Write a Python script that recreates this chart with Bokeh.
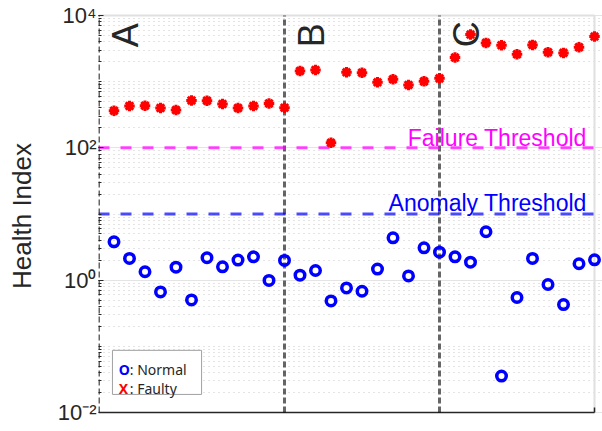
import math
from bokeh.plotting import figure
from bokeh.models import Label, BoxAnnotation, FixedTicker, Range1d, CustomJSTickFormatter
from bokeh.embed import file_html
from bokeh.resources import INLINE

# ---------------- data ----------------
sample = list(range(1, 33))
normal = [3.80, 2.13, 1.34, 0.665, 1.57, 0.503, 2.18, 1.59, 2.01, 2.25, 0.99, 1.99,
          1.19, 1.40, 0.486, 0.764, 0.68, 1.47, 4.37, 1.16, 3.08, 2.65,
          2.25, 1.87, 5.39, 0.0355, 0.547, 2.13, 0.86, 0.428, 1.77, 2.03]
faulty = [364, 429, 433, 400, 372, 521, 516, 460, 400, 429, 469, 404,
          1452, 1503, 119, 1384, 1368, 977, 1084, 892, 1011, 1122,
          2311, 5152, 3855, 3548, 2594, 3597, 2781, 2722, 3311, 4808]
boundaries = [0, 12, 22]
sections = ["A", "B", "C"]
failure_threshold = 100
anomaly_threshold = 10
x_lo, x_hi = 0, 32
y_lo, y_hi = 1e-2, 1e4
y_major = [1e-2, 1e0, 1e2, 1e4]
y_decades = [-2, -1, 0, 1, 2, 3]

FONT = "Liberation Sans"
TXT = "#262626"

# frame extends past the axes box so edge markers are not cut
PX_DEC = 397 / 6.0
PX_X = 496 / 32.0
p = figure(width=602, height=431, y_axis_type="log",
           x_range=Range1d(x_lo, x_hi + 8 / PX_X),
           y_range=Range1d(y_lo * 10 ** (-19 / PX_DEC), y_hi * 10 ** (15 / PX_DEC)),
           output_backend="svg", toolbar_location=None,
           min_border_left=98, min_border_right=0, min_border_top=0, min_border_bottom=0)
p.outline_line_color = None
p.background_fill_color = "white"
p.border_fill_color = "white"

minor = [k * 10 ** e for e in y_decades for k in range(2, 11)]
yticker = FixedTicker(ticks=y_major, minor_ticks=minor)

yax = p.yaxis[0]
yax.ticker = yticker
yax.formatter = CustomJSTickFormatter(code="""
const sup = {'-':'\\u207B','0':'\\u2070','1':'\\u00B9','2':'\\u00B2','3':'\\u00B3',
             '4':'\\u2074','5':'\\u2075','6':'\\u2076','7':'\\u2077','8':'\\u2078','9':'\\u2079'};
const e = String(Math.round(Math.log10(tick)));
return '10' + e.split('').map(c => sup[c]).join('');
""")
yax.major_label_text_font = FONT
yax.major_label_text_font_size = "22px"
yax.major_label_text_color = TXT
yax.major_label_standoff = 2
yax.axis_line_color = None
yax.major_tick_in = 5
yax.major_tick_out = 0
yax.minor_tick_in = 3
yax.minor_tick_out = 0
yax.major_tick_line_color = TXT
yax.minor_tick_line_color = TXT
yax.axis_label = "Health Index"
yax.axis_label_text_font = FONT
yax.axis_label_text_font_size = "26px"
yax.axis_label_text_font_style = "normal"
yax.axis_label_text_color = TXT
yax.axis_label_standoff = 18
p.xaxis.visible = False

p.xgrid.visible = False
yg = p.ygrid[0]
yg.ticker = yticker
yg.grid_line_color = "#e4e4e4"
yg.minor_grid_line_color = "#c8c8c8"
yg.minor_grid_line_dash = "1 4"

# axes box: light top/right edges, dark bottom edge with end tick
p.segment(x0=[x_lo, x_hi], y0=[y_hi, y_lo], x1=[x_hi, x_hi], y1=[y_hi, y_hi],
          line_color="#e0e0e0", line_width=2)
p.segment(x0=[x_lo], y0=[y_lo], x1=[x_hi], y1=[y_lo], line_color=TXT, line_width=1.5)
p.segment(x0=[x_hi], y0=[y_lo], x1=[x_hi], y1=[y_lo * 10 ** (5 / PX_DEC)],
          line_color=TXT, line_width=1.5)

# section boundaries
p.segment(x0=boundaries, y0=[y_lo] * len(boundaries), x1=boundaries, y1=[y_hi] * len(boundaries),
          line_color="black", line_alpha=0.6, line_width=3, line_dash="6 3")
# thresholds
p.segment(x0=[x_lo], y0=[failure_threshold], x1=[x_hi], y1=[failure_threshold],
          line_color="#ff00ff", line_alpha=0.72, line_width=3, line_dash="11 11")
p.segment(x0=[x_lo], y0=[anomaly_threshold], x1=[x_hi], y1=[anomaly_threshold],
          line_color="#0000ff", line_alpha=0.7, line_width=3, line_dash="11 11")

# markers
p.scatter(sample, faulty, marker="circle", size=7.5, fill_color="red", line_color=None)
p.scatter(sample, faulty, marker="asterisk", size=10.5, line_color="red", line_width=3)
p.scatter(sample, normal, marker="circle", size=9.5, fill_color=None,
          line_color="blue", line_width=3.5)

# section labels
for b, s in zip(boundaries, sections):
    p.add_layout(Label(x=b + 1.72, y=3300, text=s, angle=math.pi / 2,
                       text_align="left", text_baseline="alphabetic",
                       text_font=FONT, text_font_size="36px", text_color=TXT))

# threshold labels
p.add_layout(Label(x=31.5, y=failure_threshold * 1.4, text="Failure Threshold",
                   text_align="right", text_baseline="alphabetic",
                   text_font=FONT, text_font_size="23px", text_color="#ff00ff"))
p.add_layout(Label(x=31.5, y=anomaly_threshold * 1.48, text="Anomaly Threshold",
                   text_align="right", text_baseline="alphabetic",
                   text_font=FONT, text_font_size="23px", text_color="#0000ff"))

# legend
p.add_layout(BoxAnnotation(left=0.9, right=6.65, top=0.087, bottom=0.01875,
                           fill_color="white", fill_alpha=1, line_color="#a0a0a0",
                           line_width=1, line_alpha=1))
LF = "Noto Sans"
for yv, sym, col, lab in [(0.0453, "O", "blue", ": Normal"), (0.0233, "X", "red", ": Faulty")]:
    p.add_layout(Label(x=1.31, y=yv, text=sym, text_align="left", text_baseline="alphabetic",
                       text_font=LF, text_font_size="14px", text_font_style="bold",
                       text_color=col))
    p.add_layout(Label(x=1.31, y=yv, x_offset=11, text=lab, text_align="left",
                       text_baseline="alphabetic", text_font=LF, text_font_size="14px",
                       text_color=TXT))

open("out.html", "w").write(file_html(p, INLINE))
